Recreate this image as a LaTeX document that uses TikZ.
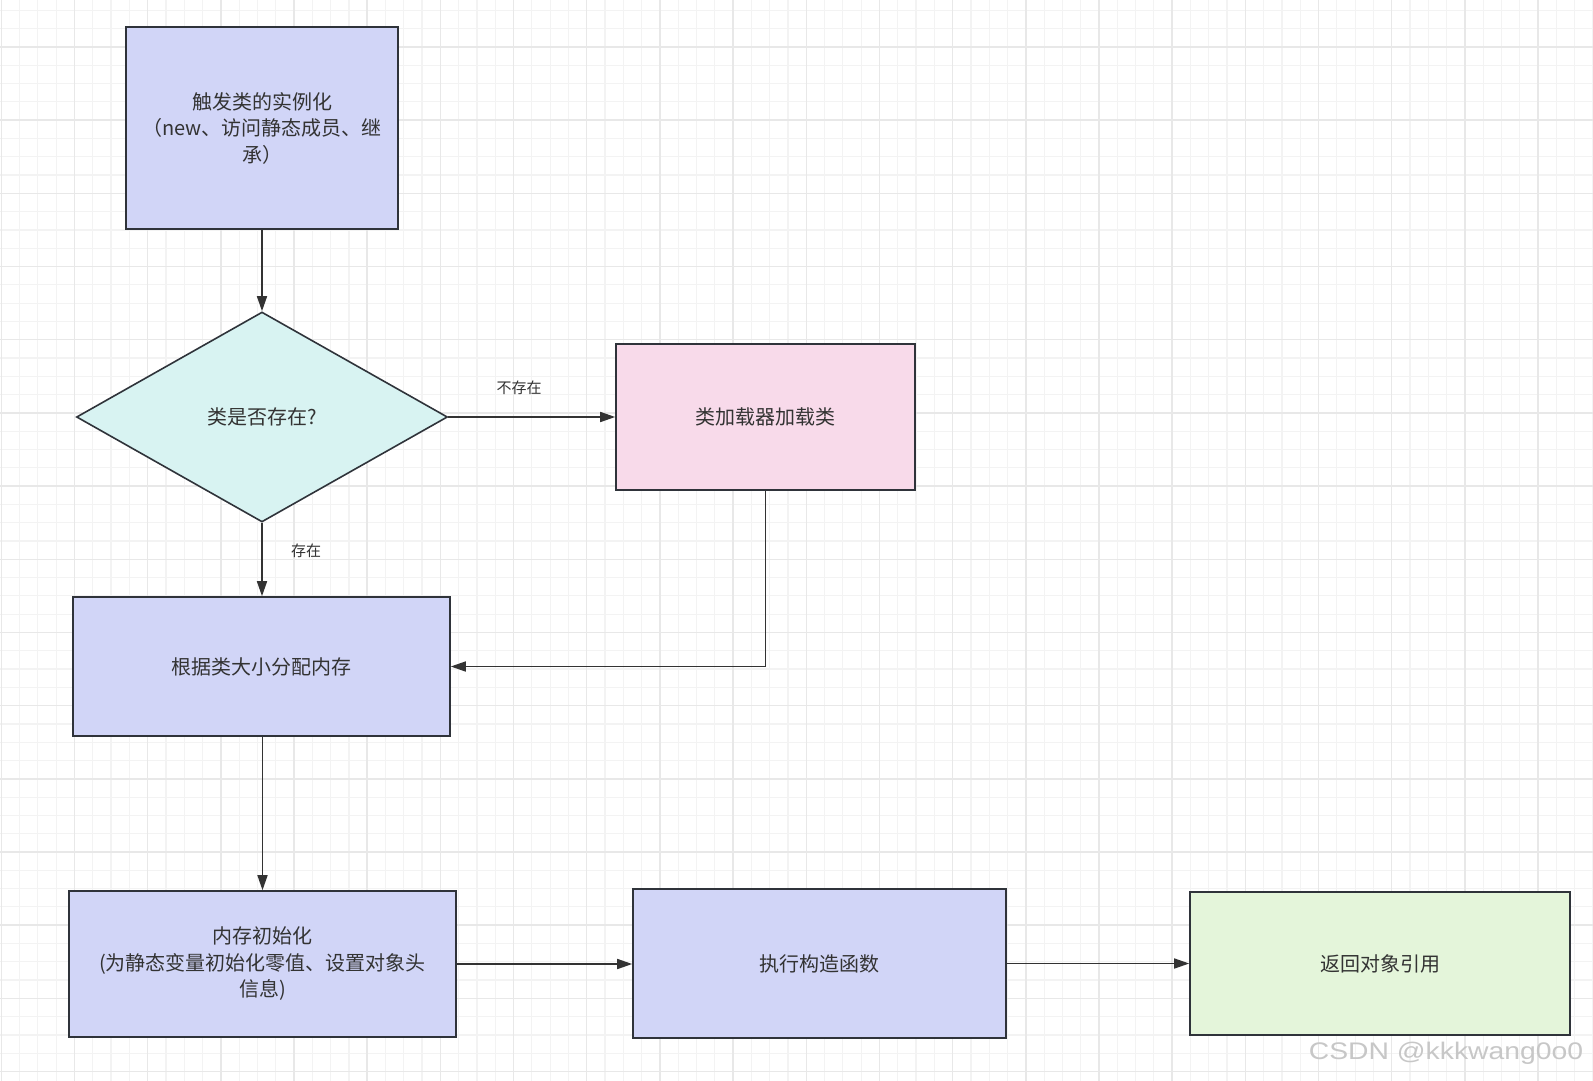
\documentclass[tikz,border=0pt]{standalone}
\usepackage{fontspec}
\setmainfont{Noto Sans CJK SC}
\newfontfamily\wmfont{Liberation Sans}
\usetikzlibrary{shapes.geometric,arrows.meta}
\definecolor{boxblue}{HTML}{D1D5F7}
\definecolor{boxcyan}{HTML}{D8F3F2}
\definecolor{boxpink}{HTML}{F8DAEA}
\definecolor{boxgreen}{HTML}{E4F5DA}
\definecolor{edgecol}{HTML}{2F333A}
\definecolor{txtcol}{HTML}{333333}
\definecolor{gridminor}{HTML}{F3F3F3}
\definecolor{gridmajor}{HTML}{E8E8E8}
\begin{document}
\begin{tikzpicture}[x=1pt,y=-1pt,
  minorline/.style={draw=gridminor,line width=1.2pt},
  majorline/.style={draw=gridmajor,line width=1.5pt},
  flowbox/.style={draw=edgecol,line width=1.6pt,inner sep=0pt,align=center,
    text=txtcol,font=\fontsize{20}{26.5}\selectfont},
  flowarrow/.style={draw=txtcol,line width=1.6pt,-{Triangle[length=15pt,width=10pt]}},
  edgelabel/.style={text=txtcol,font=\fontsize{15}{18}\selectfont,inner sep=0pt}]
\useasboundingbox (0,0) rectangle (1593,1081);
\fill[white] (0,0) rectangle (1593,1081);
\begin{scope}
\clip (0,0) rectangle (1593,1081);
\foreach \k in {-1,...,87} \draw[minorline] ({1.3+18.295*\k},0) -- ({1.3+18.295*\k},1081);
\foreach \k in {-3,...,57} \draw[minorline] (0,{47+18.295*\k}) -- (1593,{47+18.295*\k});
\foreach \k in {0,...,22} \draw[majorline] ({1.3+73.18*\k},0) -- ({1.3+73.18*\k},1081);
\foreach \k in {-1,...,14} \draw[majorline] (0,{47+73.18*\k}) -- (1593,{47+73.18*\k});
\end{scope}

\node[flowbox,fill=boxblue,minimum width=272pt,minimum height=202pt] (trigger) at (262,128)
  {触发类的实例化\\（new、访问静态成员、继\\承）};
\node[flowbox,fill=boxcyan,diamond,minimum width=371pt,minimum height=210pt] (exists) at (262,417)
  {类是否存在?};
\node[flowbox,fill=boxpink,minimum width=299pt,minimum height=146pt] (loader) at (765.5,417)
  {类加载器加载类};
\node[flowbox,fill=boxblue,minimum width=377pt,minimum height=139pt] (alloc) at (261.5,666.5)
  {根据类大小分配内存};
\node[flowbox,fill=boxblue,minimum width=387pt,minimum height=146pt] (init) at (262.5,964)
  {内存初始化\\(为静态变量初始化零值、设置对象头\\信息)};
\node[flowbox,fill=boxblue,minimum width=373pt,minimum height=149pt] (ctor) at (819.5,963.5)
  {执行构造函数};
\node[flowbox,fill=boxgreen,minimum width=380pt,minimum height=143pt] (ret) at (1380,963.5)
  {返回对象引用};

\draw[flowarrow] (trigger.south) -- (exists.north);
\draw[flowarrow] (exists.east) -- (loader.west);
\draw[flowarrow] (exists.south) -- (alloc.north -| exists.south);
\draw[flowarrow] (loader.south) |- (alloc.east);
\draw[flowarrow] (alloc.south -| init.north) -- (init.north);
\draw[flowarrow] (init.east) -- (init.east -| ctor.west);
\draw[flowarrow] (ctor.east) -- (ctor.east -| ret.west);

\node[edgelabel] (lblno) at (519,388) {不存在};
\node[edgelabel] (lblyes) at (306,551) {存在};

\node[text=black!22,font=\wmfont\fontsize{24}{24}\selectfont,xscale=1.18,inner sep=0pt] (wm) at (1446,1053) {CSDN @kkkwang0o0};
\end{tikzpicture}
\end{document}
